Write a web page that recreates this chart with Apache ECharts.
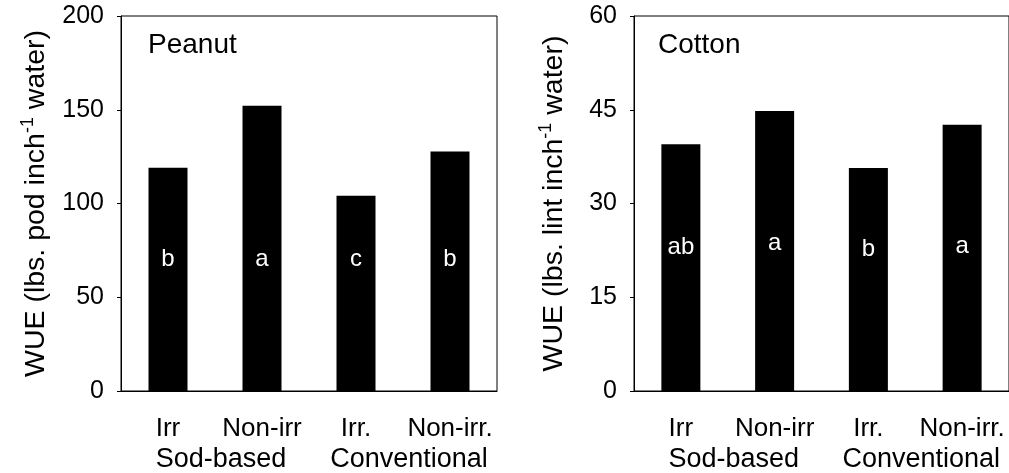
<!DOCTYPE html>
<html lang="en">
    <head>
        <meta charset="UTF-8">
        <script src="https://cdn.jsdelivr.net/npm/echarts@6/dist/echarts.min.js"></script>
        <title>WUE Peanut and Cotton</title>
        <style>
            body { margin: 0; background: #fff; }
        </style>
    </head>
    <body>
        <div id="chart-container" style="width: 1009px; height: 473px;"></div>

        <script>
            // treatments on the x axis and the two groups below them
            const categories = ['Irr', 'Non-irr', 'Irr.', 'Non-irr.'];
            const groups = ['Sod-based', 'Conventional'];

            // water use efficiency
            const peanutValues = [119.1, 152.1, 104.1, 127.7];
            const cottonValues = [39.5, 44.8, 35.7, 42.6];

            // mean separation letters and the height where they sit
            const peanutLetters = ['b', 'a', 'c', 'b'];
            const peanutLetterPos = [70, 70, 70, 70];
            const cottonLetters = ['ab', 'a', 'b', 'a'];
            const cottonLetterPos = [23, 23.6, 22.6, 23.1];

            const peanutTicks = [0, 50, 100, 150, 200];
            const cottonTicks = [0, 15, 30, 45, 60];

            const font = 'Liberation Sans, Arial, sans-serif';
            const chart = echarts.init(document.getElementById('chart-container'));

            // y axis name with a superscript -1
            function yName(crop) {
                return '{n|WUE (lbs. ' + crop + ' inch}{s|-1}{n| water)}';
            }
            const nameRich = {
                n: { fontSize: 28.5, fontFamily: font, color: '#000', lineHeight: 34 },
                s: { fontSize: 18, fontFamily: font, color: '#000', verticalAlign: 'top', lineHeight: 19 }
            };

            function valueAxis(gridIndex, ticks, crop, gap) {
                return {
                    type: 'value',
                    gridIndex: gridIndex,
                    min: ticks[0],
                    max: ticks[ticks.length - 1],
                    interval: ticks[1] - ticks[0],
                    name: yName(crop),
                    nameLocation: 'middle',
                    nameRotate: 90,
                    nameGap: gap,
                    nameTextStyle: { rich: nameRich },
                    axisLine: { show: true, lineStyle: { color: '#000', width: 1 } },
                    axisTick: { show: true, length: 4, lineStyle: { color: '#000' } },
                    axisLabel: { fontSize: 25, fontFamily: font, color: '#000', margin: 17 },
                    splitLine: { show: false }
                };
            }

            function catAxis(gridIndex) {
                return {
                    type: 'category',
                    gridIndex: gridIndex,
                    data: categories,
                    axisLine: { lineStyle: { color: '#000', width: 1 } },
                    axisTick: { alignWithLabel: true, length: 6, lineStyle: { color: '#000' } },
                    axisLabel: { fontSize: 26, fontFamily: font, color: '#000', margin: 25, interval: 0 }
                };
            }

            function groupAxis(gridIndex) {
                return {
                    type: 'category',
                    gridIndex: gridIndex,
                    position: 'bottom',
                    data: groups,
                    axisLine: { show: false },
                    axisTick: { show: false },
                    axisLabel: { fontSize: 27, fontFamily: font, color: '#000', margin: 55, interval: 0, padding: [0, 0, 0, 12] }
                };
            }

            function barSeries(axisIndex, values) {
                return {
                    type: 'bar',
                    xAxisIndex: axisIndex,
                    yAxisIndex: axisIndex,
                    data: values,
                    barWidth: 39,
                    itemStyle: { color: '#000' },
                    silent: true
                };
            }

            function letterSeries(axisIndex, pos, letters) {
                return {
                    type: 'scatter',
                    xAxisIndex: axisIndex,
                    yAxisIndex: axisIndex,
                    data: pos,
                    symbolSize: 0,
                    silent: true,
                    z: 5,
                    itemStyle: { opacity: 1 },
                    label: {
                        show: true,
                        position: 'inside',
                        color: '#ffffff',
                        opacity: 1,
                        textBorderWidth: 0,
                        fontSize: 24,
                        fontFamily: font,
                        formatter: p => letters[p.dataIndex]
                    }
                };
            }

            const options = {
                animation: false,
                backgroundColor: '#fff',
                title: [
                    { text: 'Peanut', left: 143, top: 26, textStyle: { fontSize: 28, fontWeight: 'normal', fontFamily: font, color: '#000' } },
                    { text: 'Cotton', left: 653, top: 26, textStyle: { fontSize: 28, fontWeight: 'normal', fontFamily: font, color: '#000' } }
                ],
                grid: [
                    { left: 121, top: 16, width: 376, height: 376, show: true, borderColor: '#000', borderWidth: 1 },
                    { left: 634, top: 16, width: 376, height: 376, show: true, borderColor: '#000', borderWidth: 1 }
                ],
                xAxis: [catAxis(0), catAxis(1), groupAxis(0), groupAxis(1)],
                yAxis: [valueAxis(0, peanutTicks, 'pod', 68), valueAxis(1, cottonTicks, 'lint', 63)],
                series: [
                    barSeries(0, peanutValues),
                    barSeries(1, cottonValues),
                    letterSeries(0, peanutLetterPos, peanutLetters),
                    letterSeries(1, cottonLetterPos, cottonLetters)
                ]
            };
            chart.setOption(options);
        </script>
    </body>
</html>
